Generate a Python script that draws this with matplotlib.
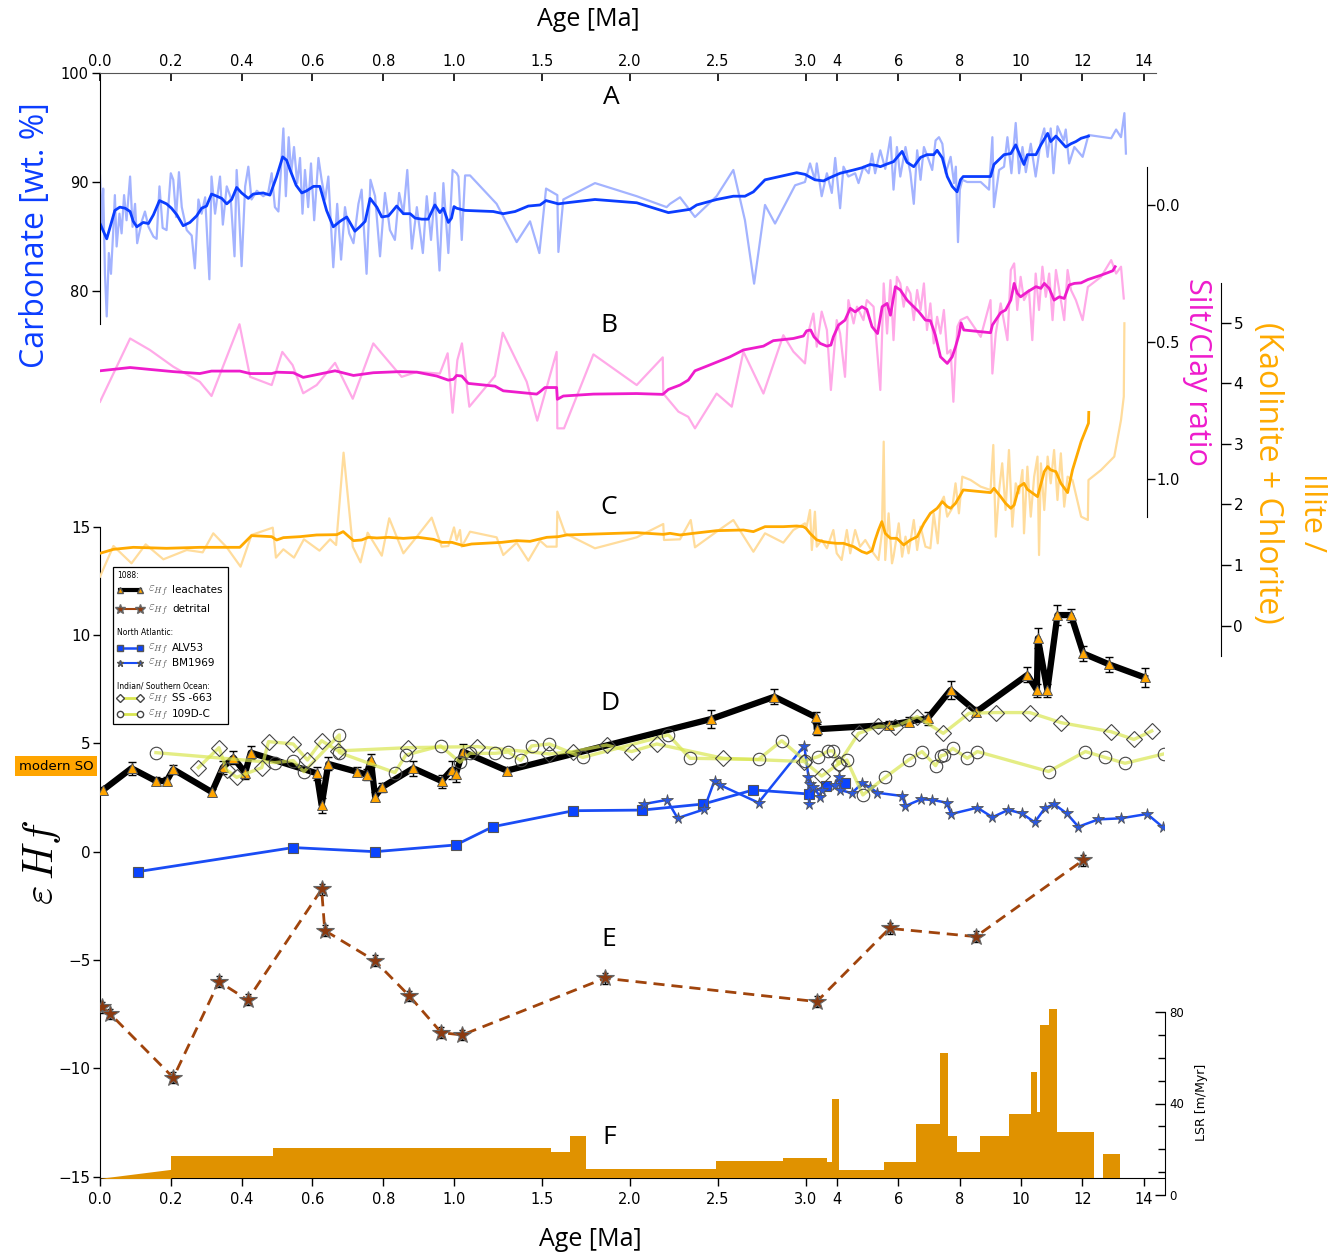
"""Multi-proxy record vs age: carbonate, silt/clay, clay ratio, Hf isotopes and LSR."""

import numpy as np
import matplotlib
matplotlib.use("Agg")
import matplotlib.pyplot as plt
from matplotlib.lines import Line2D
from matplotlib.patches import Rectangle

# ---------------- data ----------------
carb_raw_age = [0.0, 0.005, 0.009, 0.014, 0.019, 0.025, 0.031, 0.038, 0.042, 0.047, 0.055, 0.061,
                0.068, 0.075, 0.085, 0.092, 0.099, 0.105, 0.118, 0.127, 0.137, 0.151, 0.16, 0.168,
                0.177, 0.188, 0.2, 0.207, 0.215, 0.223, 0.231, 0.245, 0.259, 0.268, 0.278, 0.287,
                0.297, 0.309, 0.315, 0.325, 0.339, 0.347, 0.358, 0.369, 0.38, 0.386, 0.392, 0.4,
                0.41, 0.419, 0.428, 0.443, 0.461, 0.475, 0.485, 0.494, 0.504, 0.518, 0.525, 0.533,
                0.54, 0.548, 0.557, 0.565, 0.572, 0.579, 0.588, 0.596, 0.605, 0.617, 0.626, 0.636,
                0.645, 0.659, 0.67, 0.681, 0.692, 0.704, 0.716, 0.73, 0.739, 0.753, 0.764, 0.777,
                0.791, 0.805, 0.819, 0.833, 0.845, 0.857, 0.868, 0.881, 0.895, 0.912, 0.923, 0.935,
                0.946, 0.959, 0.97, 0.984, 0.996, 1.015, 1.025, 1.044, 1.063, 1.091, 1.242, 1.356,
                1.432, 1.485, 1.523, 1.587, 1.593, 1.621, 1.801, 2.038, 2.208, 2.227, 2.284, 2.369,
                2.492, 2.587, 2.653, 2.705, 2.767, 2.824, 2.938, 2.994, 3.13, 3.29, 3.35, 3.51,
                3.68, 3.84, 3.95, 4.11, 4.22, 4.38, 4.60, 4.71, 4.87, 5.04, 5.15, 5.25, 5.42, 5.58,
                5.75, 5.85, 5.96, 6.07, 6.24, 6.40, 6.51, 6.62, 6.73, 6.84, 7.00, 7.11, 7.22, 7.33,
                7.44, 7.55, 7.71, 7.82, 7.88, 7.95, 8.01, 8.09, 8.25, 8.69, 8.96, 9.07, 9.12, 9.29,
                9.45, 9.56, 9.69, 9.83, 9.94, 10.05, 10.16, 10.32, 10.48, 10.65, 10.76, 10.87,
                10.97, 11.06, 11.19, 11.39, 11.46, 11.57, 11.74, 12.01, 12.20, 12.94, 13.10, 13.26,
                13.37, 13.42]
carb_raw = [90.6, 85.9, 89.4, 81.6, 77.7, 83.5, 81.6, 85.9, 88.8, 84.1, 87.1, 85.3,
            88.8, 86.5, 90.5, 85.9, 88.0, 84.4, 86.4, 87.3, 85.9, 85.0, 84.8, 89.6,
            85.8, 85.6, 90.8, 90.2, 86.8, 90.9, 87.7, 85.6, 85.1, 82.1, 88.4, 87.1,
            88.6, 81.1, 90.5, 87.1, 90.5, 86.1, 89.6, 88.6, 83.2, 91.1, 87.7, 82.3,
            89.6, 91.4, 88.4, 89.2, 88.7, 89.0, 90.8, 87.7, 87.3, 94.9, 88.7, 94.1,
            90.8, 93.2, 89.9, 92.2, 87.1, 91.1, 87.7, 91.7, 86.5, 92.2, 90.2, 88.4,
            90.5, 82.2, 88.0, 82.9, 87.7, 85.3, 84.4, 88.0, 89.3, 81.6, 90.2, 88.7,
            83.2, 89.0, 85.6, 84.7, 89.0, 87.1, 91.1, 83.9, 87.7, 83.5, 88.7, 84.7,
            89.0, 81.9, 89.9, 83.5, 91.1, 90.8, 90.5, 84.7, 90.6, 90.6, 88.0, 84.5,
            86.4, 83.5, 89.4, 88.8, 83.6, 88.4, 89.9, 88.7, 87.7, 88.0, 88.6, 86.8,
            88.7, 91.1, 86.5, 80.7, 87.9, 86.2, 89.7, 90.0, 91.7, 90.2, 91.7, 88.7,
            90.8, 89.0, 92.2, 87.6, 91.4, 90.5, 90.8, 89.9, 91.4, 90.8, 92.6, 90.8, 92.9, 91.2,
            94.1, 89.3, 93.2, 90.5, 93.2, 90.8, 88.0, 92.9, 90.2, 93.2, 92.0, 91.1, 93.8, 94.1,
            93.5, 90.8, 92.3, 89.9, 91.4, 84.5, 89.3, 90.2, 90.0, 90.0, 89.3, 94.1, 87.7, 91.1,
            91.4, 94.1, 90.8, 95.4, 90.8, 93.2, 90.9, 93.5, 90.5, 93.8, 94.9, 92.3,
            94.9, 90.8, 95.1, 93.8, 94.8, 91.7, 93.2, 92.3, 94.3, 94.0, 94.8, 94.1,
            96.3, 92.6]

carb_smooth_age = [0.0, 0.019, 0.042, 0.056, 0.071, 0.085, 0.094, 0.104, 0.122, 0.137, 0.151, 0.168,
                   0.188, 0.202, 0.217, 0.235, 0.254, 0.273, 0.287, 0.301, 0.315, 0.330, 0.344,
                   0.358, 0.372, 0.386, 0.400, 0.419, 0.433, 0.461, 0.480, 0.499, 0.516, 0.527,
                   0.537, 0.554, 0.570, 0.584, 0.603, 0.621, 0.640, 0.659, 0.678, 0.697, 0.720,
                   0.734, 0.749, 0.763, 0.782, 0.796, 0.815, 0.838, 0.857, 0.876, 0.890, 0.909,
                   0.927, 0.946, 0.960, 0.970, 0.984, 0.993, 1.0, 1.015, 1.0625, 1.223, 1.280,
                   1.347, 1.422, 1.489, 1.523, 1.593, 1.640, 1.801, 2.038, 2.218, 2.341, 2.379,
                   2.492, 2.587, 2.653, 2.701, 2.767, 2.947, 2.994, 3.29, 3.57, 3.78, 4.11, 4.55,
                   4.82, 5.09, 5.31, 5.42, 5.64, 5.85, 6.13, 6.29, 6.51, 6.73, 6.94, 7.16, 7.27,
                   7.44, 7.60, 7.76, 7.92, 8.03, 8.12, 9.01, 9.12, 9.45, 9.67, 9.83, 9.99, 10.10,
                   10.21, 10.49, 10.65, 10.87, 10.97, 11.14, 11.30, 11.46, 11.63, 11.79, 11.96, 12.20]
carb_smooth = [86.2, 84.8, 87.4, 87.7, 87.6, 87.3, 86.4, 85.9, 86.3, 86.2, 87.0, 88.3,
               88.0, 87.6, 87.0, 86.0, 86.3, 86.9, 87.6, 87.8, 88.9, 88.7, 88.5,
               88.0, 88.4, 89.5, 89.0, 88.5, 88.9, 89.0, 88.8, 90.5, 92.3, 92.0,
               91.1, 89.7, 89.0, 89.2, 89.6, 89.6, 87.4, 85.9, 86.4, 86.8, 85.5,
               85.9, 86.4, 88.5, 87.7, 86.8, 86.9, 87.8, 87.1, 87.1, 86.7, 86.6,
               86.6, 87.9, 87.2, 87.6, 86.3, 86.7, 87.75, 87.6, 87.4, 87.3, 87.1,
               87.3, 87.8, 87.9, 88.3, 88.0, 88.1, 88.4, 88.1, 87.2, 87.5, 87.9,
               88.4, 88.7, 88.7, 89.1, 90.2, 90.85, 90.7, 90.2, 90.1, 90.4, 90.8, 91.1,
               91.3, 91.6, 91.5, 91.4, 91.65, 91.86, 92.8, 91.8, 91.4, 92.25, 92.5, 92.5, 92.9,
               92.2, 90.5, 89.6, 89.1, 90.2, 90.5, 90.5, 91.6, 92.5, 92.6, 93.4, 92.3, 91.6,
               92.5, 92.5, 93.4, 94.45, 93.7, 94.2, 93.7, 93.2, 93.5, 93.7, 94.0, 94.2]

silt_raw_age = [0.0, 0.085, 0.141, 0.207, 0.282, 0.315, 0.394, 0.424, 0.485, 0.515, 0.544, 0.574,
                0.612, 0.664, 0.714, 0.772, 0.852, 0.895, 0.960, 0.982, 0.996, 1.019, 1.045,
                1.087, 1.233, 1.277, 1.413, 1.473, 1.583, 1.587, 1.625, 1.792, 2.038, 2.186,
                2.189, 2.275, 2.331, 2.369, 2.492, 2.578, 2.644, 2.758, 2.871, 2.928, 2.994,
                3.08, 3.24, 3.35, 3.51, 3.68, 3.81, 4.00, 4.11, 4.27, 4.38, 4.55, 4.66, 4.87,
                4.98, 5.20, 5.42, 5.53, 5.64, 5.75, 5.85, 5.96, 6.07, 6.18, 6.29, 6.40, 6.51,
                6.62, 6.73, 6.84, 6.94, 7.05, 7.16, 7.27, 7.38, 7.49, 7.60, 7.71, 7.80, 7.87,
                7.93, 8.03, 8.25, 8.69, 9.01, 9.07, 9.18, 9.34, 9.56, 9.67, 9.78, 9.88, 9.99,
                10.10, 10.26, 10.37, 10.48, 10.59, 10.70, 10.81, 10.92, 11.03, 11.14, 11.30,
                11.41, 11.52, 11.63, 11.79, 12.01, 12.18, 12.61, 12.94, 13.10, 13.26, 13.35]
silt_raw = [0.719, 0.488, 0.530, 0.591, 0.646, 0.698, 0.436, 0.628, 0.658, 0.537, 0.585, 0.688,
            0.658, 0.577, 0.708, 0.506, 0.628, 0.610, 0.616, 0.542, 0.759, 0.567, 0.506,
            0.737, 0.625, 0.467, 0.646, 0.788, 0.537, 0.816, 0.816, 0.546, 0.658, 0.557,
            0.689, 0.755, 0.774, 0.816, 0.689, 0.737, 0.536, 0.689, 0.476, 0.536, 0.579,
            0.463, 0.397, 0.518, 0.390, 0.457, 0.676, 0.421, 0.470, 0.628, 0.348, 0.433, 0.372, 0.421,
            0.348, 0.372, 0.676, 0.287, 0.470, 0.275, 0.494, 0.263, 0.287, 0.372, 0.300, 0.324, 0.421,
            0.311, 0.384, 0.287, 0.457, 0.360, 0.506, 0.409, 0.470, 0.384, 0.543, 0.530, 0.719, 0.555,
            0.445, 0.421, 0.409, 0.482, 0.348, 0.616, 0.470, 0.360, 0.494, 0.238, 0.214, 0.384, 0.263,
            0.348, 0.311, 0.494, 0.251, 0.384, 0.226, 0.336, 0.251, 0.421, 0.238, 0.348,
            0.421, 0.238, 0.311, 0.348, 0.421, 0.300, 0.263, 0.202, 0.251, 0.226, 0.342]

silt_smooth_age = [0.0, 0.085, 0.141, 0.207, 0.282, 0.315, 0.395, 0.424, 0.485, 0.499, 0.546, 0.574,
                   0.612, 0.664, 0.716, 0.772, 0.847, 0.895, 0.951, 0.984, 0.998, 1.015, 1.044,
                   1.081, 1.233, 1.280, 1.470, 1.489, 1.517, 1.583, 1.587, 1.621, 1.792, 2.038,
                   2.186, 2.218, 2.284, 2.331, 2.369, 2.436, 2.568, 2.644, 2.758, 2.814, 2.928,
                   2.985, 3.02, 3.15, 3.26, 3.46, 3.68, 3.81, 3.89, 4.06, 4.27, 4.44, 4.60, 4.82,
                   4.98, 5.15, 5.33, 5.48, 5.64, 5.75, 5.91, 6.07, 6.29, 6.45, 6.67, 6.89, 7.05,
                   7.21, 7.38, 7.60, 7.76, 7.87, 7.98, 8.05, 8.14, 9.01, 9.07, 9.34, 9.50, 9.67,
                   9.78, 9.88, 9.99, 10.21, 10.49, 10.65, 10.76, 10.92, 11.08, 11.25, 11.41,
                   11.57, 11.74, 11.96, 12.18, 12.61, 12.99, 13.07]
silt_smooth = [0.606, 0.594, 0.601, 0.609, 0.616, 0.607, 0.607, 0.616, 0.616, 0.611, 0.613, 0.630,
               0.620, 0.606, 0.623, 0.613, 0.609, 0.611, 0.625, 0.640, 0.637, 0.623, 0.625,
               0.652, 0.662, 0.679, 0.691, 0.682, 0.667, 0.667, 0.710, 0.698, 0.691, 0.689,
               0.692, 0.674, 0.658, 0.640, 0.606, 0.589, 0.555, 0.530, 0.516, 0.496, 0.488,
               0.479, 0.460, 0.457, 0.482, 0.506, 0.516, 0.512, 0.482, 0.439, 0.421, 0.378, 0.391, 0.372,
               0.382, 0.445, 0.470, 0.372, 0.360, 0.403, 0.299, 0.311, 0.348, 0.366, 0.390, 0.421, 0.423,
               0.475, 0.555, 0.579, 0.555, 0.518, 0.475, 0.431, 0.457, 0.467, 0.439, 0.394, 0.384, 0.348,
               0.287, 0.323, 0.336, 0.318, 0.299, 0.305, 0.287, 0.305, 0.348, 0.336, 0.342,
               0.293, 0.287, 0.285, 0.273, 0.257, 0.241, 0.226]

illite_raw_age = [0.0, 0.038, 0.089, 0.129, 0.179, 0.245, 0.290, 0.320, 0.358, 0.397, 0.428, 0.488,
                  0.497, 0.518, 0.548, 0.576, 0.620, 0.650, 0.667, 0.688, 0.714, 0.736, 0.756,
                  0.796, 0.817, 0.857, 0.895, 0.937, 0.965, 0.984, 1.0, 1.015, 1.034, 1.044,
                  1.091, 1.242, 1.280, 1.356, 1.422, 1.489, 1.527, 1.583, 1.587, 1.631, 1.801,
                  2.038, 2.189, 2.193, 2.284, 2.345, 2.369, 2.492, 2.587, 2.701, 2.767, 2.871,
                  2.928, 2.994, 3.02, 3.13, 3.19, 3.29, 3.35, 3.51, 3.68, 3.89, 4.00, 4.16, 4.33,
                  4.44, 4.60, 4.76, 4.93, 5.09, 5.20, 5.36, 5.47, 5.53, 5.58, 5.69, 5.80, 5.85,
                  6.02, 6.13, 6.24, 6.34, 6.51, 6.62, 6.73, 6.89, 7.05, 7.16, 7.29, 7.38, 7.49,
                  7.60, 7.76, 7.87, 7.98, 8.09, 8.36, 8.69, 9.01, 9.10, 9.18, 9.29, 9.39, 9.50,
                  9.61, 9.72, 9.83, 9.94, 10.05, 10.10, 10.21, 10.32, 10.43, 10.54, 10.59, 10.65,
                  10.76, 10.87, 10.97, 11.08, 11.19, 11.30, 11.41, 11.52, 11.68, 11.96, 12.18,
                  12.20, 12.61, 13.04, 13.26, 13.35, 13.37]
illite_raw = [0.809, 1.315, 1.029, 1.342, 1.095, 1.249, 1.210, 1.524, 1.293, 0.974, 1.497, 1.618,
              1.123, 1.260, 1.123, 1.425, 1.238, 1.425, 1.331, 2.855, 1.304, 1.045, 1.535,
              1.155, 1.772, 1.194, 1.469, 1.783, 1.304, 1.315, 1.622, 1.414, 1.579, 1.304,
              1.551, 1.458, 1.166, 1.370, 1.073, 1.403, 1.304, 1.304, 1.882, 1.524, 1.277,
              1.458, 1.678, 1.414, 1.425, 1.744, 1.293, 1.551, 1.744, 1.220, 1.524, 1.370,
              1.579, 1.689, 1.634, 1.909, 1.249, 1.881, 1.304, 1.414, 1.277, 1.579, 1.194, 1.084, 1.579,
              1.194, 1.579, 1.304, 1.414, 1.277, 1.194, 1.084, 1.524, 3.037, 1.084, 1.854, 1.029, 1.139,
              1.689, 1.139, 1.469, 1.194, 1.744, 1.249, 1.634, 1.304, 1.277, 1.854, 1.359, 2.019, 2.129,
              1.799, 1.937, 2.349, 1.854, 2.459, 2.404, 2.294, 2.239, 2.982, 1.469, 2.240, 2.680, 1.909,
              2.899, 1.634, 2.349, 2.184, 2.569, 1.524, 2.624, 1.799, 2.459, 2.790, 1.166, 2.679,
              1.909, 2.790, 2.349, 2.899, 2.074, 2.844, 1.964, 2.459, 2.404, 1.799, 1.744,
              2.404, 2.569, 2.790, 3.394, 3.780, 4.99]

illite_smooth_age = [0.0, 0.038, 0.094, 0.188, 0.282, 0.395, 0.428, 0.485, 0.499, 0.518, 0.565, 0.612,
                     0.669, 0.687, 0.716, 0.739, 0.758, 0.782, 0.815, 0.857, 0.899, 0.942, 0.966,
                     0.994, 1.053, 1.100, 1.271, 1.356, 1.432, 1.527, 1.593, 1.640, 2.038, 2.189,
                     2.227, 2.284, 2.360, 2.492, 2.644, 2.701, 2.767, 2.871, 2.947, 2.985, 3.0,
                     3.13, 3.35, 3.57, 3.78, 4.00, 4.22, 4.55, 4.82, 4.98, 5.15, 5.25, 5.36, 5.47,
                     5.58, 5.75, 5.96, 6.18, 6.40, 6.62, 6.84, 7.05, 7.27, 7.44, 7.60, 7.71, 7.87,
                     8.03, 8.12, 9.01, 9.12, 9.34, 9.50, 9.67, 9.78, 9.94, 10.10, 10.21, 10.54,
                     10.76, 10.87, 10.97, 11.14, 11.30, 11.52, 11.68, 11.96, 12.20, 12.21]
illite_smooth = [1.194, 1.260, 1.293, 1.277, 1.293, 1.293, 1.486, 1.469, 1.414, 1.453, 1.469, 1.497,
                 1.502, 1.552, 1.403, 1.414, 1.458, 1.447, 1.458, 1.441, 1.458, 1.425, 1.375,
                 1.375, 1.320, 1.348, 1.375, 1.403, 1.392, 1.458, 1.469, 1.497, 1.535, 1.507,
                 1.524, 1.497, 1.524, 1.568, 1.579, 1.552, 1.634, 1.634, 1.645, 1.634, 1.607,
                 1.524, 1.415, 1.387, 1.370, 1.359, 1.359, 1.304, 1.222, 1.194, 1.238, 1.414, 1.579, 1.717,
                 1.524, 1.442, 1.442, 1.332, 1.414, 1.469, 1.689, 1.854, 1.937, 2.047, 1.965, 1.937, 2.020,
                 2.157, 2.240, 2.196, 2.267, 2.129, 2.019, 1.937, 1.992, 2.294, 2.349, 2.250, 2.129,
                 2.542, 2.625, 2.570, 2.542, 2.350, 2.196, 2.570, 3.037, 3.340, 3.52]

leach_age = [0.009, 0.089, 0.158, 0.188, 0.207, 0.316, 0.347, 0.377, 0.410, 0.426,
             0.612, 0.626, 0.645, 0.725, 0.753, 0.765, 0.777, 0.796, 0.885, 0.965,
             0.993, 1.01, 1.05, 1.30, 2.46, 2.82, 3.33, 3.35, 5.70, 6.34,
             6.96, 7.71, 8.55, 10.21, 10.52, 10.55, 10.86, 11.19, 11.63, 12.03,
             12.88, 14.03]
leach_ehf = [2.85, 3.85, 3.26, 3.26, 3.80, 2.75, 3.89, 4.34, 3.64, 4.57,
             3.62, 2.15, 4.05, 3.69, 3.56, 4.23, 2.54, 2.97, 3.85, 3.26,
             3.77, 3.57, 4.62, 3.74, 6.12, 7.15, 6.2, 5.65, 5.85, 6.0,
             6.15, 7.46, 6.46, 8.16, 7.46, 9.85, 7.46, 10.92, 10.92, 9.15,
             8.64, 8.04]
leach_err = [0.15, 0.3, 0.2, 0.2, 0.2, 0.15, 0.3, 0.3, 0.3, 0.3,
             0.3, 0.35, 0.3, 0.2, 0.25, 0.3, 0.2, 0.2, 0.35, 0.3,
             0.4, 0.35, 0.35, 0.15, 0.4, 0.35, 0.25, 0.25, 0.2, 0.2,
             0.3, 0.4, 0.2, 0.35, 0.3, 0.45, 0.3, 0.45, 0.3, 0.35,
             0.35, 0.45]

detr_age = [0.0065, 0.029, 0.207, 0.336, 0.417, 0.626, 0.635, 0.776, 0.874, 0.964,
            1.046, 1.857, 3.35, 5.72, 8.53, 12.02]
detr_ehf = [-7.18, -7.49, -10.43, -6.00, -6.84, -1.74, -3.64, -5.03, -6.66, -8.35,
            -8.46, -5.84, -6.92, -3.54, -3.92, -0.40]
detr_err = [0.25] * 16

alv_age = [0.108, 0.546, 0.777, 1.01, 1.22, 1.678, 2.07, 2.417, 2.70, 3.11, 3.65, 4.27]
alv_ehf = [-0.92, 0.19, 0.0, 0.31, 1.15, 1.89, 1.92, 2.20, 2.85, 2.66, 3.05, 3.15]

bm_age = [2.08, 2.21, 2.27, 2.42, 2.48, 2.51, 2.73, 2.99, 3.08, 3.10, 3.13, 3.24, 3.46, 3.51,
          3.95, 4.06, 4.11, 4.49, 4.82, 5.09, 5.31, 6.13, 6.24, 6.75, 7.11, 7.58, 7.73, 8.58,
          9.07, 9.59, 10.02, 10.45, 10.78, 11.08, 11.49, 11.87, 12.52, 13.26, 14.11, 14.63]
bm_ehf = [2.20, 2.39, 1.55, 1.95, 3.28, 3.08, 2.26, 4.89, 3.46, 2.20, 3.11, 2.98, 2.54, 2.85,
          3.08, 3.46, 2.85, 2.70, 3.15, 2.98, 2.72, 2.57, 2.11, 2.42, 2.39, 2.26, 1.74, 2.03,
          1.59, 1.93, 1.77, 1.36, 2.01, 2.19, 1.77, 1.15, 1.49, 1.54, 1.74, 1.12]

ss_age = [0.278, 0.336, 0.358, 0.386, 0.457, 0.476, 0.546, 0.586, 0.626, 0.673, 0.87,
          1.129, 1.542, 1.678, 1.867, 2.009, 2.152, 2.53, 2.989, 3.51, 4.06, 4.71, 5.36, 5.91,
          6.62, 7.47, 8.31, 9.18, 10.29, 11.32, 12.93, 13.68, 14.26]
ss_ehf = [3.88, 4.80, 3.77, 3.43, 3.88, 5.08, 4.97, 4.23, 5.12, 4.65, 4.80,
          4.85, 4.51, 4.62, 4.92, 4.62, 4.97, 4.31, 4.16, 3.49, 4.05, 5.46, 5.79, 5.77,
          6.23, 5.46, 6.39, 6.42, 6.42, 5.95, 5.54, 5.18, 5.57]

dc_age = [0.158, 0.494, 0.546, 0.576, 0.676, 0.676, 0.833, 0.864, 0.962,
          1.034, 1.091, 1.233, 1.309, 1.379, 1.441, 1.542, 1.731,
          2.218, 2.341, 2.73, 2.862, 2.994, 3.40, 3.73, 3.89, 4.06, 4.33, 4.85, 5.58,
          6.34, 6.78, 7.22, 7.40, 7.51, 7.78, 8.25, 8.58, 10.90, 12.10, 12.74, 13.39, 14.65]
dc_ehf = [4.57, 4.11, 4.20, 3.69, 5.39, 4.57, 3.65, 4.46, 4.88,
          4.13, 4.54, 4.54, 4.60, 4.21, 4.88, 4.97, 4.35,
          5.39, 4.31, 4.26, 5.12, 4.20, 4.39, 4.65, 4.65, 4.05, 4.23, 2.62, 3.43,
          4.23, 4.62, 3.97, 4.43, 4.46, 4.77, 4.31, 4.62, 3.70, 4.62, 4.35, 4.08, 4.51]

lsr_ramp_age = [0.0, 0.2]
lsr_ramp = [7.3, 11.2]
lsr_edges = [0.2, 0.49, 1.55, 1.66, 1.75, 2.49, 2.87, 3.69, 3.83, 4.08, 5.55, 6.59, 7.37,
             7.64, 7.93, 8.68, 9.62, 10.32, 10.53, 10.62, 10.92, 11.18, 12.38, 12.68, 13.24]
lsr_values = [17.2, 20.4, 18.9, 25.9, 11.2, 15.0, 16.3, 14.6, 42.1, 10.9, 14.3, 31.0,
              62.2, 25.8, 18.7, 25.8, 35.4, 53.9, 36.4, 74.2, 81.5, 27.7, 0.0, 17.9]

age_ticks = [0, 0.2, 0.4, 0.6, 0.8, 1.0, 1.5, 2.0, 2.5, 3.0, 4, 6, 8, 10, 12, 14]
age_ticklabels = ["0.0", "0.2", "0.4", "0.6", "0.8", "1.0", "1.5", "2.0", "2.5", "3.0",
                  "4", "6", "8", "10", "12", "14"]

# ---------------- styling ----------------
plt.rcParams["font.family"] = ["DejaVu Sans"]
plt.rcParams["mathtext.fontset"] = "cm"
BIG = ["Open Sans", "DejaVu Sans"]

C_BLUE = "#0b3dff"
C_BLUE_LT = "#a3b3ff"
C_PINK = "#ee1ccc"
C_PINK_LT = "#ffaae8"
C_ORANGE = "#ffaa00"
C_ORANGE_LT = "#ffdc9c"
C_YEL = "#d9e650"
C_BROWN = "#a0440c"
C_LSR = "#e09200"

W, H = 1338, 1255
fig = plt.figure(figsize=(W / 100, H / 100), dpi=100)


def fx(px):
    return px / W


def fy(py):
    return 1 - py / H


LEFT, RIGHT, TOP, BOTTOM = 100, 1164, 72.7, 1178
rect = [fx(LEFT), fy(BOTTOM), (RIGHT - LEFT) / W, (BOTTOM - TOP) / H]

# piecewise-linear age axis: 0-1 Ma, 1-3 Ma and 3-14 Ma stretched differently
AGE_KNOTS = [-1.0, 0.0, 1.0, 3.0, 20.0]
AXIS_KNOTS = [-354.0, 0.0, 354.0, 706.0, 706.0 + 17 * 30.7]


def age_fwd(a):
    return np.interp(a, AGE_KNOTS, AXIS_KNOTS)


def age_inv(u):
    return np.interp(u, AXIS_KNOTS, AGE_KNOTS)


ax = fig.add_axes(rect)
ax.set_xscale("function", functions=(age_fwd, age_inv))
ax.set_xlim(0, 14.66)
ax.set_ylim(-15.06, 35.95)

ax_c = fig.add_axes(rect, sharex=ax)
ax_s = fig.add_axes(rect, sharex=ax)
ax_i = fig.add_axes(rect, sharex=ax)
lsr_h = 82 * 2.2875
ax_l = fig.add_axes([fx(LEFT), fy(1195), (RIGHT - LEFT) / W, lsr_h / H], sharex=ax)

for a in (ax_c, ax_s, ax_i, ax_l):
    a.set_facecolor("none")
    for s in a.spines.values():
        s.set_visible(False)

# ---- main eHf axis ----
ax.spines["right"].set_visible(False)
ax.spines["top"].set_visible(False)
ax.spines["left"].set_bounds(-15, 15)
ax.set_yticks([-15, -10, -5, 0, 5, 10, 15])
ax.set_yticklabels(["\u221215", "\u221210", "\u22125", "0", "5", "10", "15"])
ax.tick_params(axis="y", direction="out", length=5, width=1, labelsize=11, pad=2)
ax.set_xticks(age_ticks)
ax.set_xticklabels(age_ticklabels)
ax.minorticks_off()
ax.tick_params(axis="x", direction="out", length=6, width=1, labelsize=10.5, pad=4)

# ---- carbonate axis (left, top) + top age axis ----
ax_c.set_ylim(-1.125, 100)
ax_c.spines["left"].set_visible(True)
ax_c.spines["left"].set_bounds(77, 100)
ax_c.spines["top"].set_visible(True)
ax_c.spines["top"].set_bounds(0, 14.4)
ax_c.spines["top"].set_color("#555555")
ax_c.set_yticks([80, 90, 100])
ax_c.tick_params(axis="y", direction="out", length=6, width=1, labelsize=10.5, pad=2)
ax_c.xaxis.set_ticks_position("top")
ax_c.tick_params(axis="x", direction="in", length=6, width=1.2, labelsize=10.5, pad=3,
                 labeltop=True, labelbottom=False)

ax_c.plot(carb_raw_age, carb_raw, color=C_BLUE_LT, lw=1.6)
ax_c.plot(carb_smooth_age, carb_smooth, color=C_BLUE, lw=2)

# ---- silt/clay axis (right, inverted) ----
ax_s.set_ylim(3.552, -0.482)
ax_s.xaxis.set_visible(False)
ax_s.yaxis.tick_right()
ax_s.spines["right"].set_visible(True)
ax_s.spines["right"].set_position(("axes", (1146.7 - LEFT) / (RIGHT - LEFT)))
ax_s.spines["right"].set_bounds(-0.139, 1.139)
ax_s.set_yticks([0.0, 0.5, 1.0])
ax_s.set_yticklabels(["0.0", "0.5", "1.0"])
ax_s.tick_params(axis="y", direction="out", length=6, width=1, labelsize=10.5, pad=1)
ax_s.plot(silt_raw_age, silt_raw, color=C_PINK_LT, lw=1.6)
ax_s.plot(silt_smooth_age, silt_smooth, color=C_PINK, lw=2)

# ---- illite / (kaolinite + chlorite) axis ----
ax_i.set_ylim(-9.114, 9.125)
ax_i.xaxis.set_visible(False)
ax_i.yaxis.tick_right()
ax_i.spines["right"].set_visible(True)
ax_i.spines["right"].set_position(("axes", (1221 - LEFT) / (RIGHT - LEFT)))
ax_i.spines["right"].set_bounds(-0.5, 5.65)
ax_i.set_yticks([0, 1, 2, 3, 4, 5])
ax_i.tick_params(axis="y", direction="out", length=7, width=1, labelsize=11, pad=2)
ax_i.plot(illite_raw_age, illite_raw, color=C_ORANGE_LT, lw=1.6)
ax_i.plot(illite_smooth_age, illite_smooth, color=C_ORANGE, lw=2)

# ---- eHf records ----
ax.plot(alv_age, alv_ehf, color="#1a4cf5", lw=2, marker="s", ms=7.5,
        mfc="#0a44ff", mec="#555555", mew=0.8, zorder=2)
ax.plot(bm_age, bm_ehf, color="#1a4cf5", lw=1.8, marker="*", ms=8.5,
        mfc="#2a58e0", mec="#555555", mew=0.6, zorder=2)
ax.errorbar(leach_age, leach_ehf, yerr=leach_err, fmt="none", ecolor="black",
            elinewidth=1, capsize=3, zorder=3)
ax.plot(leach_age, leach_ehf, color="black", lw=4.5, zorder=3)
ax.plot(leach_age, leach_ehf, ls="none", marker="^", ms=7.5, mfc="#ffa500",
        mec="#555555", mew=0.7, zorder=4)
ax.plot(ss_age, ss_ehf, color=C_YEL, lw=2.4, alpha=0.7, zorder=5)
ax.plot(ss_age, ss_ehf, ls="none", marker="D", ms=8, mfc="none", mec="#444444",
        mew=0.8, zorder=6)
ax.plot(dc_age, dc_ehf, color=C_YEL, lw=2.4, alpha=0.7, zorder=5)
ax.plot(dc_age, dc_ehf, ls="none", marker="o", ms=9, mfc="none", mec="#444444",
        mew=0.8, zorder=6)
ax.errorbar(detr_age, detr_ehf, yerr=detr_err, fmt="none", ecolor="black",
            elinewidth=1, capsize=2, zorder=3)
ax.plot(detr_age, detr_ehf, color=C_BROWN, lw=2, ls=(0, (4, 2.5)), marker="*", ms=13,
        mfc="#8b3a10", mec="#666666", mew=0.8, zorder=4)

# ---- LSR ----
ax_l.set_ylim(0, 82)
ax_l.xaxis.set_visible(False)
ax_l.yaxis.tick_right()
ax_l.spines["right"].set_visible(True)
ax_l.spines["right"].set_position(("outward", 1))
ax_l.spines["right"].set_bounds(0, 80)
ax_l.set_yticks([0, 40, 80])
ax_l.set_yticks(np.arange(10, 80, 10), minor=True)
ax_l.tick_params(axis="y", which="both", direction="in", width=1, labelsize=8.5, pad=3)
ax_l.tick_params(axis="y", which="major", length=7)
ax_l.tick_params(axis="y", which="minor", length=5)
steps = ax_l.stairs(lsr_values, lsr_edges, baseline=0, fill=True, color=C_LSR, zorder=2)
steps.set_clip_path(ax.patch)
ramp = ax_l.fill_between(lsr_ramp_age, lsr_ramp, 0, color=C_LSR, lw=0, zorder=2)
ramp.set_clip_path(ax.patch)

# ---- labels ----
fig.text(fx(588), fy(20), "Age [Ma]", ha="center", va="center", fontsize=18, family=BIG)
fig.text(fx(590), fy(1240), "Age [Ma]", ha="center", va="center", fontsize=18, family=BIG)
fig.text(fx(36), fy(235), "Carbonate [wt. %]", rotation=90, ha="center", va="center",
         fontsize=23, color=C_BLUE, family=BIG)
fig.text(fx(1197), fy(372), "Silt/Clay ratio", rotation=-90, ha="center", va="center",
         fontsize=22, color=C_PINK, family=BIG)
fig.text(fx(1312), fy(512), "Illite /", rotation=-90, ha="center", va="center",
         fontsize=22, color=C_ORANGE, family=BIG)
fig.text(fx(1267), fy(473), "(Kaolinite + Chlorite)", rotation=-90, ha="center", va="center",
         fontsize=23, color=C_ORANGE, family=BIG)
fig.text(fx(42), fy(862), r"$\varepsilon\,Hf$", rotation=90, ha="center", va="center",
         fontsize=30)
fig.text(fx(1201), fy(1102), "LSR [m/Myr]", rotation=90, ha="center", va="center", fontsize=9)

for letter, (px, py) in zip("ABCDEF", [(611, 97), (609, 326), (609, 508), (610, 703),
                                      (609, 940), (609, 1138)]):
    fig.text(fx(px), fy(py), letter, ha="center", va="center", fontsize=19, family=BIG)

fig.text(fx(56), fy(766), "modern SO", ha="center", va="center", fontsize=9.5,
         bbox=dict(boxstyle="square,pad=0.25", fc="#ffa500", ec="none"))

# ---- hand-built legend ----
fig.add_artist(Rectangle((fx(113), fy(724)), (228 - 113) / W, (724 - 567) / H,
                         transform=fig.transFigure, fc="white", ec="black", lw=0.9))


def legend_row(py, label, **line_kw):
    fig.add_artist(Line2D([fx(120), fx(140)], [fy(py), fy(py)], transform=fig.transFigure,
                          **line_kw))
    fig.text(fx(148), fy(py + 1), r"$\varepsilon_{Hf}$", fontsize=9, color="#555555",
             va="center")
    fig.text(fx(172), fy(py), label, fontsize=7.5, va="center")


fig.text(fx(117), fy(575), "1088:", fontsize=5.5, va="center")
legend_row(590, "leachates", color="black", lw=3, marker="^", ms=4, mfc="#ffa500", mec="#555")
legend_row(609, "detrital", color=C_BROWN, lw=1.5, marker="*", ms=7, mfc="#8b3a10", mec="#666")
fig.text(fx(117), fy(633), "North Atlantic:", fontsize=5.5, va="center")
legend_row(648, "ALV53", color="#1a4cf5", lw=1.8, marker="s", ms=4.5, mfc="#0a44ff", mec="#555")
legend_row(663, "BM1969", color="#1a4cf5", lw=1.5, marker="*", ms=5, mfc="#2a58e0", mec="#555")
fig.text(fx(117), fy(686), "Indian/ Southern Ocean:", fontsize=5.5, va="center")
legend_row(698, "SS -663", color=C_YEL, lw=2, marker="D", ms=4, mfc="white", mec="#444")
legend_row(714, "109D-C", color=C_YEL, lw=2, marker="o", ms=4.5, mfc="white", mec="#444")

fig.savefig("out.png", dpi=100)
plt.close(fig)
